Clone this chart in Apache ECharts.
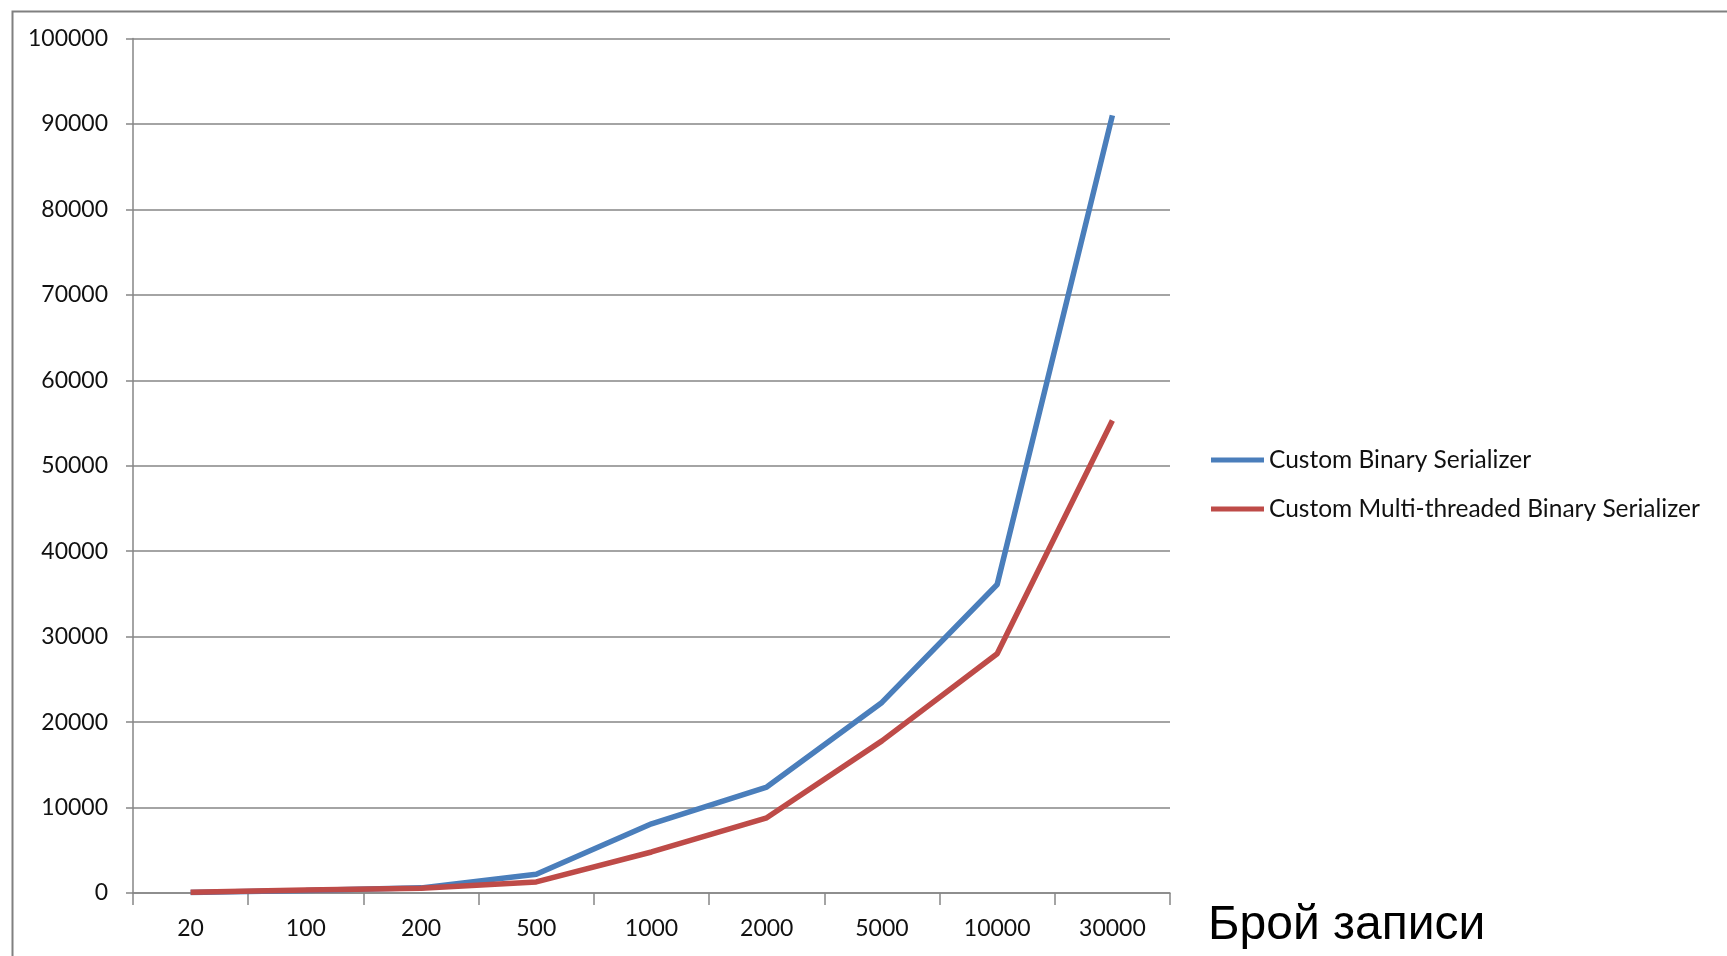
<!DOCTYPE html>
<html>
<head>
<meta charset="utf-8">
<script src="https://cdn.jsdelivr.net/npm/echarts@6/dist/echarts.min.js"></script>
<style>
html,body{margin:0;padding:0;background:#fff;}
#chart{width:1727px;height:956px;}
</style>
</head>
<body>
<div id="chart"></div>
<script>
const categories = ['20','100','200','500','1000','2000','5000','10000','30000'];
const seriesNames = ['Custom Binary Serializer','Custom Multi-threaded Binary Serializer'];
const binarySerializer = [50, 300, 600, 2200, 8100, 12400, 22300, 36100, 91000];
const multiThreadedSerializer = [100, 350, 550, 1300, 4800, 8800, 17800, 28000, 55300];
const yTicks = [0, 10000, 20000, 30000, 40000, 50000, 60000, 70000, 80000, 90000, 100000];
const xAxisTitle = 'Брой записи';

const chart = echarts.init(document.getElementById('chart'), null, {renderer:'canvas'});
const font = 'Lato, "Open Sans", sans-serif';
chart.setOption({
  backgroundColor:'#fff',
  animation:false,
  graphic:[
    {type:'rect', left:10, top:9, shape:{x:0,y:0,width:1760,height:1000}, style:{fill:'none', stroke:'#808080', lineWidth:2}, silent:true},
    {type:'text', left:1208, top:902, style:{text:xAxisTitle, font:'48px "Liberation Sans", Arial, sans-serif', fill:'#000'}}
  ],
  grid:{left:133, right:557, top:38.5, bottom:63, containLabel:false},
  legend:{
    orient:'vertical', left:1206, top:442,
    itemWidth:53, itemHeight:5, itemGap:23,
    icon:'rect',
    textStyle:{fontFamily:font, fontSize:24.5, color:'#111', lineHeight:26, padding:[0,0,0,0]},
    data:seriesNames
  },
  xAxis:{
    type:'category', data:categories, boundaryGap:true,
    axisLine:{lineStyle:{color:'#868686', width:1.5}},
    axisTick:{show:true, length:12, lineStyle:{color:'#868686', width:1.5}, alignWithLabel:false},
    axisLabel:{fontFamily:font, fontSize:23, color:'#111', margin:24}
  },
  yAxis:{
    type:'value', min:yTicks[0], max:yTicks[yTicks.length-1], interval:yTicks[1]-yTicks[0],
    axisLine:{show:true, lineStyle:{color:'#868686', width:1.5}},
    axisTick:{show:true, length:7, lineStyle:{color:'#868686', width:1.5}},
    axisLabel:{fontFamily:font, fontSize:23, color:'#111', margin:25, formatter:function(v){return String(v);}},
    splitLine:{lineStyle:{color:'#868686', width:1.5}}
  },
  series:[
    {name:seriesNames[0], type:'line', data:binarySerializer, symbol:'none', lineStyle:{width:5.5, color:'#4A7EBB'}, itemStyle:{color:'#4A7EBB'}},
    {name:seriesNames[1], type:'line', data:multiThreadedSerializer, symbol:'none', lineStyle:{width:5.5, color:'#BE4B48'}, itemStyle:{color:'#BE4B48'}}
  ]
});
</script>
</body>
</html>
